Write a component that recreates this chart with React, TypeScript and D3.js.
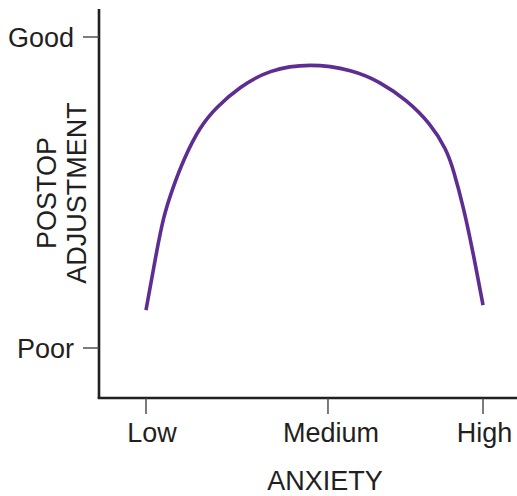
import { useEffect, useRef } from 'react'
import * as d3 from 'd3'

// anxiety on 0..100 (Low..High), adjustment on 0..100 (Poor..Good)
const anxiety = [0, 2.7, 5.1, 8.1, 11.1, 16, 21, 27.9, 36.3, 48.7, 61.4, 69.4, 77.4, 84.3, 89.2, 91.2, 94.2, 97.1, 100]
const adjustment = [12.2, 28.3, 42.2, 51.9, 60.5, 71.2, 77.6, 84, 89.4, 91.6, 89.4, 85.6, 79.7, 72.3, 63.8, 57.4, 45.4, 30.5, 13.8]
const xTickValues = [0, 54, 100]
const xTickLabels = ['Low', 'Medium', 'High']
const yTickValues = [0, 100]
const yTickLabels = ['Poor', 'Good']

const W = 517
const H = 496
const INK = '#231f20'
const FONT = 'Liberation Sans, Arial, Helvetica, sans-serif'
const FS = 27

export default function App() {
  const svgRef = useRef<SVGSVGElement>(null)

  useEffect(() => {
    if (!svgRef.current) return
    const svg = d3.select(svgRef.current)
    svg.selectAll('*').remove()

    const x = d3.scaleLinear().domain([0, 100]).range([146, 483])
    const y = d3.scaleLinear().domain([0, 100]).range([348, 37])
    const axisX = 99
    const axisY = 398

    // axes lines
    svg.append('line')
      .attr('x1', axisX).attr('y1', 9).attr('x2', axisX).attr('y2', axisY)
      .attr('stroke', INK).attr('stroke-width', 2.6)
    svg.append('line')
      .attr('x1', axisX - 1.3).attr('y1', axisY).attr('x2', W).attr('y2', axisY)
      .attr('stroke', INK).attr('stroke-width', 2.6)

    // y ticks
    yTickValues.forEach((v, i) => {
      svg.append('line')
        .attr('x1', 83).attr('x2', axisX).attr('y1', y(v)).attr('y2', y(v))
        .attr('stroke', '#444').attr('stroke-width', 1.4)
      svg.append('text')
        .attr('x', 74).attr('y', y(v) + 9.5)
        .attr('text-anchor', 'end')
        .attr('font-family', FONT).attr('font-size', FS).attr('fill', INK)
        .text(yTickLabels[i])
    })

    // x ticks
    xTickValues.forEach((v, i) => {
      svg.append('line')
        .attr('x1', x(v)).attr('x2', x(v)).attr('y1', axisY).attr('y2', 414)
        .attr('stroke', '#444').attr('stroke-width', 1.4)
      svg.append('text')
        .attr('x', x(v) + (i === 0 ? 6 : i === 1 ? 3 : 1.5)).attr('y', 442)
        .attr('text-anchor', 'middle')
        .attr('font-family', FONT).attr('font-size', FS).attr('fill', INK)
        .text(xTickLabels[i])
    })

    // axis titles
    svg.append('text')
      .attr('x', 325).attr('y', 490)
      .attr('text-anchor', 'middle')
      .attr('font-family', FONT).attr('font-size', FS).attr('fill', INK)
      .text('ANXIETY')

    const yTitle = svg.append('text')
      .attr('transform', 'translate(56,193) rotate(-90)')
      .attr('text-anchor', 'middle')
      .attr('font-family', FONT).attr('font-size', FS).attr('fill', INK)
    yTitle.append('tspan').attr('x', 0).attr('y', 0).text('POSTOP')
    yTitle.append('tspan').attr('x', 0).attr('y', 30).text('ADJUSTMENT')

    // curve
    const pts = anxiety.map((a, i) => [a, adjustment[i]] as [number, number])
    const line = d3.line<[number, number]>()
      .x(d => x(d[0]))
      .y(d => y(d[1]))
      .curve(d3.curveBasis)
    svg.append('path')
      .attr('d', line(pts)!)
      .attr('fill', 'none')
      .attr('stroke', '#5e2d91')
      .attr('stroke-width', 3.6)
  }, [])

  return (
    <div style={{ position: 'absolute', left: 0, top: 0 }}>
      <svg ref={svgRef} width={W} height={H} style={{ display: 'block', background: '#fff' }} />
    </div>
  )
}
